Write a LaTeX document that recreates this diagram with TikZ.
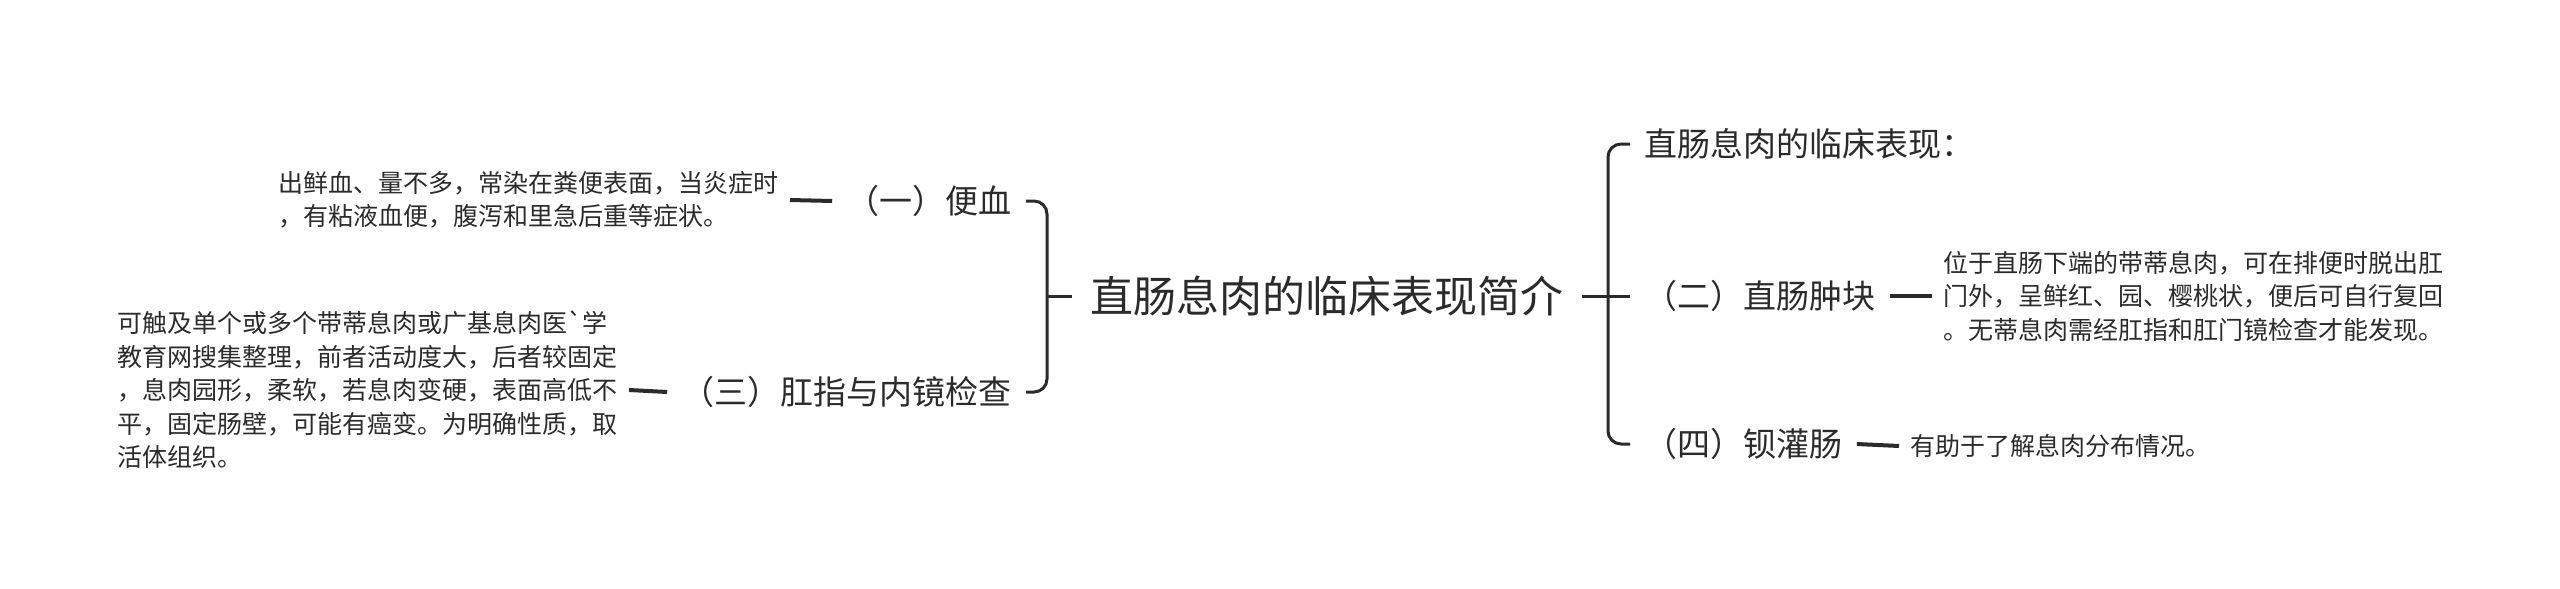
\documentclass[tikz,border=0pt]{standalone}
\usepackage{fontspec}
\newfontfamily\cjk{Noto Sans CJK SC}
\definecolor{inkgray}{HTML}{2B2B2B}

\begin{document}
\begin{tikzpicture}[x=0.5pt, y=-0.5pt,
  rootnode/.style={inner sep=9pt, text=inkgray, font=\cjk\fontsize{21.5}{26}\selectfont},
  branchnode/.style={inner sep=7pt, text=inkgray, font=\cjk\fontsize{16.5}{20}\selectfont},
  leafnode/.style={inner sep=5.5pt, align=left, text=inkgray, font=\cjk\fontsize{12.5}{16.75}\selectfont},
  bracketline/.style={draw=inkgray, line width=1.5pt, rounded corners=6.5pt},
  dashline/.style={draw=inkgray, line width=2pt}]

\useasboundingbox (0,0) rectangle (2560,589);

% Root Title
\node[rootnode] (root) at (1327, 296) {直肠息肉的临床表现简介};

% Left Branches
\node[branchnode, anchor=east] (bianxue) at (1026, 201) {（一）便血};
\node[branchnode, anchor=east] (gangzhi) at (1026, 392) {（三）肛指与内镜检查};

% Left Details
\node[leafnode, anchor=east] (bianxuetext) at (790, 200) {出鲜血、量不多，常染在粪便表面，当炎症时\\，有粘液血便，腹泻和里急后重等症状。};
\node[leafnode, anchor=east] (gangzhitext) at (629, 390) {可触及单个或多个带蒂息肉或广基息肉医\textasciigrave 学\\教育网搜集整理，前者活动度大，后者较固定\\，息肉园形，柔软，若息肉变硬，表面高低不\\平，固定肠壁，可能有癌变。为明确性质，取\\活体组织。};

% Right Branches
\node[branchnode, anchor=west] (biaoxian) at (1630, 144) {直肠息肉的临床表现：};
\node[branchnode, anchor=west] (zhongkuai) at (1630, 296) {（二）直肠肿块};
\node[branchnode, anchor=west] (beiguan) at (1630, 444) {（四）钡灌肠};

% Right Details
\node[leafnode, anchor=west] (zhongkuaitext) at (1932, 296) {位于直肠下端的带蒂息肉，可在排便时脱出肛\\门外，呈鲜红、园、樱桃状，便后可自行复回\\。无蒂息肉需经肛指和肛门镜检查才能发现。};
\node[leafnode, anchor=west] (beiguantext) at (1899, 446) {有助于了解息肉分布情况。};

% Brackets
\coordinate (leftjoin) at (1047, 296);
\coordinate (rightjoin) at (1608, 296);
\draw[bracketline] (bianxue.east) -| (leftjoin) |- (gangzhi.east);
\draw[bracketline] (root.west) -- (leftjoin);
\draw[bracketline] (biaoxian.west) -| (rightjoin) |- (beiguan.west);
\draw[bracketline] (root.east) -- (rightjoin) -- (zhongkuai.west);

% Detail Links
\draw[dashline] (bianxuetext.east) -- (bianxue.west);
\draw[dashline] (gangzhitext.east) -- (gangzhi.west);
\draw[dashline] (zhongkuai.east) -- (zhongkuaitext.west);
\draw[dashline] (beiguan.east) -- (beiguantext.west);

\end{tikzpicture}
\end{document}
